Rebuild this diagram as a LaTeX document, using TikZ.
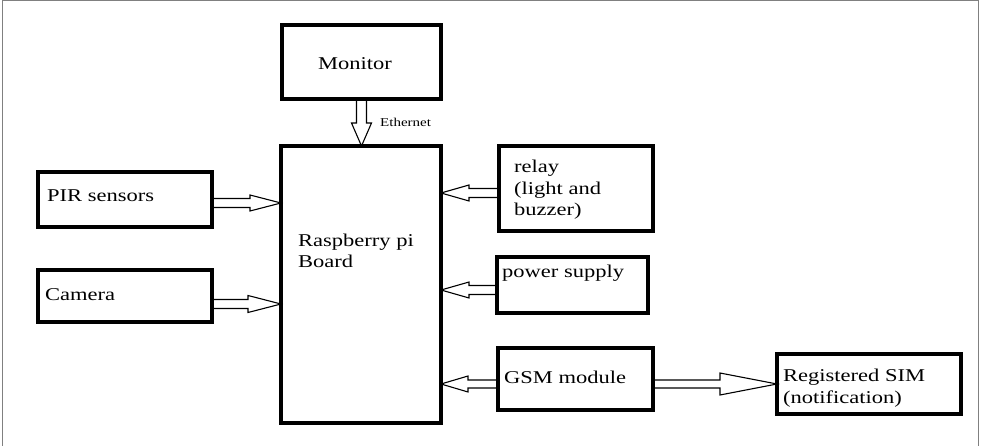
\documentclass[tikz,border=0pt]{standalone}
\usepackage{fontspec}
\setmainfont{Liberation Serif}[FakeStretch=1.25]
\usetikzlibrary{calc}
\begin{document}
\begin{tikzpicture}[x=1pt,y=-1pt,
  box/.style={draw, line width=3.6pt, inner sep=0pt, outer sep=0pt},
  lbl/.style={font=\fontsize{18}{21.6}\selectfont, anchor=base west, inner sep=0pt, align=left},
  blk/.style n args={3}{draw, line width=1.1pt, to path={let \p1=($(\tikztotarget)!#1!(\tikztostart)$) in
     ($(\tikztostart)!#2!90:(\tikztotarget)$) -- ($(\p1)!#2!90:(\tikztotarget)$) -- ($(\p1)!#3!90:(\tikztotarget)$) -- (\tikztotarget) -- ($(\p1)!#3!-90:(\tikztotarget)$) -- ($(\p1)!#2!-90:(\tikztotarget)$) -- ($(\tikztostart)!#2!-90:(\tikztotarget)$) -- cycle}}]
\useasboundingbox (0,0) rectangle (982,446);
\draw[gray, line width=1pt] (2,446) -- (2,1) -- (978,1) -- (978,446);

\node[box, minimum width=159pt, minimum height=74pt] (mon) at (361.5,62) {};
\node[box, minimum width=160pt, minimum height=277pt] (rpi) at (361,284.5) {};
\node[box, minimum width=174pt, minimum height=55pt] (pir) at (125,199.5) {};
\node[box, minimum width=174pt, minimum height=52pt] (cam) at (125,296) {};
\node[box, minimum width=154pt, minimum height=85pt] (relay) at (576,188.5) {};
\node[box, minimum width=151pt, minimum height=56pt] (power) at (572.5,285) {};
\node[box, minimum width=155pt, minimum height=62pt] (gsm) at (575.5,379) {};
\node[box, minimum width=184pt, minimum height=60pt] (sim) at (869,384) {};

\node[lbl] (tmon) at (318,70) {Monitor};
\node[lbl] (trpi) at (298,268) {Raspberry pi\\Board};
\node[lbl] (tpir) at (47,202) {PIR sensors};
\node[lbl] (tcam) at (45,300) {Camera};
\node[lbl] (trel) at (514,216) {relay\\(light and\\buzzer)};
\node[lbl] (tpow) at (502,277) {power supply};
\node[lbl] (tgsm) at (504,383) {GSM module};
\node[lbl] (tsim) at (783,403) {Registered SIM\\(notification)};
\node[lbl, font=\fontsize{12}{14}\selectfont] (teth) at (380,127) {Ethernet};

\coordinate (ethA) at (mon.south);
\coordinate (ethB) at (rpi.north -| ethA);
\coordinate (pirA) at ([yshift=-3.5pt]pir.east);
\coordinate (pirB) at (pirA -| rpi.west);
\coordinate (camA) at ([yshift=-8pt]cam.east);
\coordinate (camB) at (camA -| rpi.west);
\coordinate (relA) at ([yshift=-4.5pt]relay.west);
\coordinate (relB) at (relA -| rpi.east);
\coordinate (powA) at ([yshift=-5pt]power.west);
\coordinate (powB) at (powA -| rpi.east);
\coordinate (gsmA) at ([yshift=-5pt]gsm.west);
\coordinate (gsmB) at (gsmA -| rpi.east);
\coordinate (gsmC) at ([yshift=-5pt]gsm.east);
\coordinate (gsmD) at (gsmC -| sim.west);

\draw[blk={23pt}{5pt}{10pt}] (ethA) to (ethB);
\draw[blk={31pt}{4.5pt}{8pt}] (pirA) to (pirB);
\draw[blk={33pt}{4.5pt}{8.5pt}] (camA) to (camB);
\draw[blk={28pt}{4.5pt}{8pt}] (relA) to (relB);
\draw[blk={28pt}{4.5pt}{8pt}] (powA) to (powB);
\draw[blk={27pt}{4pt}{8pt}] (gsmA) to (gsmB);
\draw[blk={57pt}{4pt}{11pt}] (gsmC) to (gsmD);
\end{tikzpicture}
\end{document}
